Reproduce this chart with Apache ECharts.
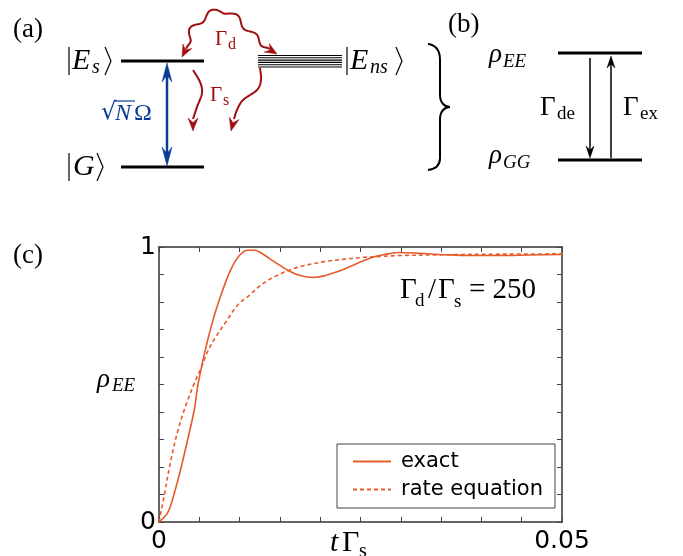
<!DOCTYPE html>
<html>
<head>
<meta charset="utf-8">
<script src="https://cdn.jsdelivr.net/npm/echarts@6/dist/echarts.min.js"></script>
<style>
  html, body { margin: 0; padding: 0; background: #fff; }
  #main { width: 683px; height: 556px; }
</style>
</head>
<body>
<div id="main"></div>
<script>
// panel (c) data
var tExact = [0, 0.00108, 0.00191, 0.00273, 0.00356, 0.00439, 0.0048, 0.00542, 0.00625, 0.00707, 0.0079,
  0.00898, 0.0100, 0.01103, 0.01187, 0.01248, 0.01372, 0.01496, 0.0162, 0.01744, 0.01909, 0.02033,
  0.0220, 0.02364, 0.02529, 0.02695, 0.0286, 0.02984, 0.03232, 0.03542, 0.03852, 0.04224, 0.04596, 0.05];
var rhoExact = [0, 0.034, 0.106, 0.197, 0.300, 0.410, 0.493, 0.583, 0.686, 0.771, 0.843,
  0.922, 0.970, 0.988, 0.988, 0.982, 0.958, 0.934, 0.912, 0.897, 0.889, 0.894,
  0.909, 0.928, 0.949, 0.966, 0.976, 0.980, 0.977, 0.972, 0.969, 0.969, 0.971, 0.973];

var tRate = [0, 0.00067, 0.00149, 0.00232, 0.00335, 0.00439, 0.00521, 0.00604, 0.00707, 0.00831, 0.00976,
  0.01124, 0.01289, 0.01456, 0.0162, 0.01785, 0.02033, 0.02281, 0.02529, 0.02777, 0.02984, 0.03604, 0.04224, 0.05];
var rhoRate = [0, 0.100, 0.227, 0.330, 0.426, 0.505, 0.559, 0.620, 0.674, 0.728, 0.789,
  0.825, 0.867, 0.895, 0.916, 0.931, 0.946, 0.955, 0.962, 0.966, 0.969, 0.972, 0.974, 0.975];

var xTickLabels = ['0', '0.05'];
var yTickLabels = ['0', '1'];
var seriesNames = ['exact', 'rate equation'];

var orange = '#e75a2a';
var darkRed = '#a00f0f';
var blue = '#0a3c96';
var serif = 'Liberation Serif, DejaVu Serif, serif';

// ---------- helpers for the level diagrams ----------
function txt(x, y, s, size, o) {
  var st = {
    text: s, fontSize: size, fontFamily: serif, fill: '#000',
    align: 'left', textAlign: 'left', verticalAlign: 'middle', textVerticalAlign: 'middle'
  };
  for (var k in (o || {})) st[k] = o[k];
  return { type: 'text', x: x, y: y, silent: true, style: st };
}
function seg(x1, y1, x2, y2, w, c) {
  return { type: 'line', silent: true, shape: { x1: x1, y1: y1, x2: x2, y2: y2 }, style: { stroke: c || '#000', lineWidth: w } };
}
function ket(x1, x2, yc, h, c) {
  // bar and closing angle bracket of a ket
  return [
    seg(x1, yc - h, x1, yc + h, 1.2, c),
    { type: 'polyline', silent: true, shape: { points: [[x2, yc - h], [x2 + 6, yc], [x2, yc + h]] },
      style: { stroke: c || '#000', lineWidth: 1.2, fill: null } }
  ];
}
function head(tip, dx, dy, len, hw, c) {
  var n = Math.sqrt(dx * dx + dy * dy); dx /= n; dy /= n;
  var px = -dy, py = dx;
  var bx = tip[0] - dx * len, by = tip[1] - dy * len;
  return { type: 'polygon', silent: true, shape: { points: [
    tip, [bx + px * hw, by + py * hw], [tip[0] - dx * len * 0.65, tip[1] - dy * len * 0.65], [bx - px * hw, by - py * hw]
  ] }, style: { fill: c, stroke: c, lineWidth: 0.5 } };
}
function catmull(pts, steps) {
  var out = [];
  for (var i = 0; i < pts.length - 1; i++) {
    var p0 = pts[Math.max(i - 1, 0)], p1 = pts[i], p2 = pts[i + 1], p3 = pts[Math.min(i + 2, pts.length - 1)];
    for (var j = 0; j < steps; j++) {
      var t = j / steps, t2 = t * t, t3 = t2 * t;
      out.push([0, 1].map(function (k) {
        return 0.5 * ((2 * p1[k]) + (-p0[k] + p2[k]) * t + (2 * p0[k] - 5 * p1[k] + 4 * p2[k] - p3[k]) * t2 + (-p0[k] + 3 * p1[k] - 3 * p2[k] + p3[k]) * t3);
      }));
    }
  }
  out.push(pts[pts.length - 1]);
  return out;
}
function wavy(ctrl, amp, waves, c) {
  var base = catmull(ctrl, 20);
  var L = [0];
  for (var i = 1; i < base.length; i++) {
    L.push(L[i - 1] + Math.hypot(base[i][0] - base[i - 1][0], base[i][1] - base[i - 1][1]));
  }
  var tot = L[L.length - 1];
  var pts = base.map(function (p, i) {
    var a = base[Math.max(i - 1, 0)], b = base[Math.min(i + 1, base.length - 1)];
    var dx = b[0] - a[0], dy = b[1] - a[1], n = Math.hypot(dx, dy) || 1;
    var s = L[i] / tot;
    var env = Math.min(1, s / 0.08, (1 - s) / 0.08);
    var off = amp * env * Math.sin(2 * Math.PI * waves * s);
    return [p[0] - dy / n * off, p[1] + dx / n * off];
  });
  return { type: 'polyline', silent: true, shape: { points: pts }, style: { stroke: c, lineWidth: 2, fill: null } };
}
function bez(a, c1, c2, b, w) {
  return { type: 'bezierCurve', silent: true,
    shape: { x1: a[0], y1: a[1], cpx1: c1[0], cpy1: c1[1], cpx2: c2[0], cpy2: c2[1], x2: b[0], y2: b[1] },
    style: { stroke: '#000', lineWidth: w, fill: null } };
}

var g = [];
// (a)
g.push(txt(13, 30, '(a)', 27));
g.push(seg(121, 61, 204, 61, 3));
g.push(seg(121, 167, 204, 167, 3));
g = g.concat(ket(69, 105, 61, 14));
g.push(txt(72, 61, 'E', 30, { fontStyle: 'italic' }));
g.push(txt(92, 68, 's', 20, { fontStyle: 'italic' }));
g = g.concat(ket(69, 97, 167, 14));
g.push(txt(73, 167, 'G', 30, { fontStyle: 'italic' }));
// E_ns manifold
for (var k = 0; k < 6; k++) g.push(seg(258, 55.5 + k * 2.3, 342, 55.5 + k * 2.3, 1.1));
g = g.concat(ket(347, 396, 61, 14));
g.push(txt(350, 61, 'E', 30, { fontStyle: 'italic' }));
g.push(txt(370, 68, 'ns', 20, { fontStyle: 'italic' }));
// coupling
g.push(seg(167, 72, 167, 157, 2.5, blue));
g.push(head([167, 63], 0, -1, 19, 5, blue));
g.push(head([167, 166], 0, 1, 19, 5, blue));
g.push(txt(101, 113, '\u221A', 24, { fill: blue, fontFamily: 'DejaVu Serif' }));
g.push(seg(115, 101, 135, 101, 1.2, blue));
g.push(txt(115, 114, 'N', 24, { fill: blue, fontStyle: 'italic' }));
g.push(txt(134, 114, '\u03A9', 24, { fill: blue }));
// decay arrows
g.push(wavy([[186, 49], [194, 27], [212, 13], [226, 11], [243, 24], [258, 40], [270, 49]], 3, 4.5, darkRed));
g.push(head([182, 57], -0.5, 1, 12, 5, darkRed));
g.push(head([277, 54], 1, 0.6, 12, 5, darkRed));
g.push(txt(215, 39, '\u0393', 21, { fill: darkRed }));
g.push(txt(228, 45, 'd', 16, { fill: darkRed }));
g.push({ type: 'polyline', silent: true, shape: { points: catmull([[193, 70], [200, 82], [202, 93], [197, 107], [193, 119]], 12) },
  style: { stroke: darkRed, lineWidth: 2, fill: null } });
g.push(head([193, 131], 0, 1, 13, 5, darkRed));
g.push({ type: 'polyline', silent: true, shape: { points: catmull([[260, 68], [261, 80], [257, 90], [243, 100], [237, 110], [234, 119]], 12) },
  style: { stroke: darkRed, lineWidth: 2, fill: null } });
g.push(head([231, 131], -0.25, 1, 13, 5, darkRed));
g.push(txt(210, 95, '\u0393', 21, { fill: darkRed }));
g.push(txt(223, 101, 's', 16, { fill: darkRed }));
// brace
g.push(bez([428, 44], [436, 45], [440, 50], [440, 60], 2));
g.push(seg(440, 60, 440, 95, 2));
g.push(bez([440, 95], [440, 103], [445, 107], [450, 107], 2));
g.push(bez([450, 107], [445, 107], [440, 111], [440, 119], 2));
g.push(seg(440, 119, 440, 158, 2));
g.push(bez([440, 158], [440, 165], [436, 169], [428, 170], 2));
// (b)
g.push(txt(448, 25, '(b)', 27));
g.push(seg(558, 53, 642, 53, 3));
g.push(seg(558, 160, 642, 160, 3));
g.push(txt(489, 55, '\u03C1', 27, { fontStyle: 'italic' }));
g.push(txt(503, 62, 'EE', 19, { fontStyle: 'italic' }));
g.push(txt(489, 156, '\u03C1', 27, { fontStyle: 'italic' }));
g.push(txt(503, 163, 'GG', 19, { fontStyle: 'italic' }));
g.push(seg(590, 58, 590, 150, 1.5));
g.push(head([590, 158], 0, 1, 12, 4, '#000'));
g.push(seg(611, 158, 611, 64, 1.5));
g.push(head([611, 56], 0, -1, 12, 4, '#000'));
g.push(txt(540, 108, '\u0393', 27));
g.push(txt(557, 114, 'de', 19));
g.push(txt(623, 108, '\u0393', 27));
g.push(txt(640, 114, 'ex', 19));
// (c) texts
g.push(txt(13, 256, '(c)', 27));
g.push(txt(97, 380, '\u03C1', 27, { fontStyle: 'italic' }));
g.push(txt(112, 386, 'EE', 19, { fontStyle: 'italic' }));
g.push(txt(400, 290, '\u0393', 29));
g.push(txt(415, 301, 'd', 19));
g.push(txt(428, 290, '/', 29));
g.push(txt(438, 290, '\u0393', 29));
g.push(txt(454, 302, 's', 19));
g.push(txt(469, 290, '= 250', 29));
g.push(txt(330, 543, 't', 30, { fontStyle: 'italic' }));
g.push(txt(342, 543, '\u0393', 30));
g.push(txt(359, 552, 's', 20));

// ---------- chart ----------
function pairs(xs, ys) {
  return xs.map(function (x, i) { return [x, ys[i]]; });
}
function near(v, w) { return Math.abs(v - w) < 1e-9; }
var axisLine = { show: true, onZero: false, lineStyle: { color: '#333', width: 1.5 } };
var axisTick = { show: true, inside: true, length: 5, lineStyle: { color: '#444', width: 1 } };
var tickFont = { fontSize: 25, fontFamily: 'DejaVu Sans', color: '#000' };

var chart = echarts.init(document.getElementById('main'), null, { renderer: 'canvas' });
chart.setOption({
  animation: false,
  backgroundColor: '#fff',
  grid: { left: 159, right: 121, top: 247, bottom: 34, containLabel: false },
  legend: {
    data: seriesNames,
    left: 337, top: 444, orient: 'vertical',
    backgroundColor: '#fff', borderColor: '#444', borderWidth: 1, borderRadius: 0,
    padding: [7, 12, 8, 15], itemWidth: 38, itemHeight: 14, itemGap: 7,
    itemStyle: { opacity: 0 },
    textStyle: { fontSize: 21, lineHeight: 21, fontFamily: 'DejaVu Sans', color: '#000', padding: [0, 0, 0, 5] }
  },
  xAxis: [
    { type: 'value', min: 0, max: 0.05, interval: 0.005, position: 'bottom',
      axisLine: axisLine, axisTick: axisTick, splitLine: { show: false },
      axisLabel: Object.assign({ margin: 7, showMinLabel: true, showMaxLabel: true,
        formatter: function (v) { return near(v, 0) ? xTickLabels[0] : (near(v, 0.05) ? xTickLabels[1] : ''); } }, tickFont) },
    { type: 'value', min: 0, max: 0.05, interval: 0.005, position: 'top',
      axisLine: axisLine, axisTick: axisTick, splitLine: { show: false }, axisLabel: { show: false } }
  ],
  yAxis: [
    { type: 'value', min: 0, max: 1, interval: 0.1, position: 'left',
      axisLine: axisLine, axisTick: axisTick, splitLine: { show: false },
      axisLabel: Object.assign({ margin: 3, showMinLabel: true, showMaxLabel: true,
        formatter: function (v) { return near(v, 0) ? yTickLabels[0] : (near(v, 1) ? yTickLabels[1] : ''); } }, tickFont) },
    { type: 'value', min: 0, max: 1, interval: 0.1, position: 'right',
      axisLine: axisLine, axisTick: axisTick, splitLine: { show: false }, axisLabel: { show: false } }
  ],
  series: [
    { name: seriesNames[0], type: 'line', xAxisIndex: 0, yAxisIndex: 0, data: pairs(tExact, rhoExact),
      symbol: 'none', showSymbol: false, smooth: 0.35, color: orange,
      lineStyle: { color: orange, width: 1.6 } },
    { name: seriesNames[1], type: 'line', xAxisIndex: 0, yAxisIndex: 0, data: pairs(tRate, rhoRate),
      symbol: 'none', showSymbol: false, smooth: 0.35, color: orange,
      lineStyle: { color: orange, width: 1.6, type: [4, 3] } }
  ],
  graphic: { elements: g }
});
</script>
</body>
</html>
